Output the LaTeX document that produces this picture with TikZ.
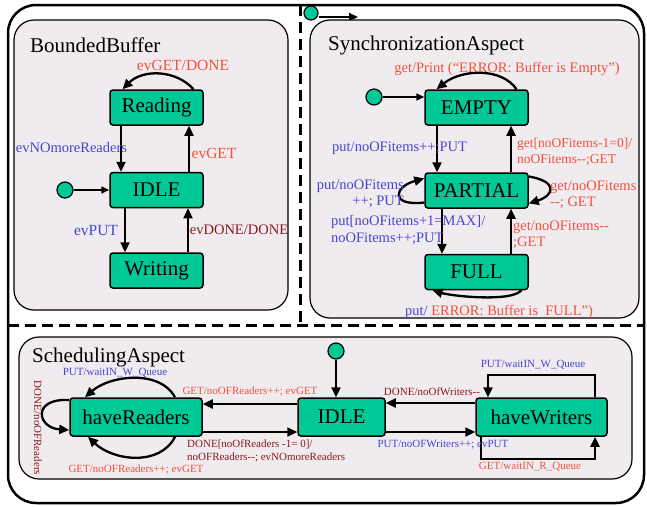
\documentclass[tikz,border=0pt]{standalone}
\usepackage{fontspec}
\setmainfont{Liberation Serif}
\usetikzlibrary{arrows.meta}
\definecolor{stategreen}{RGB}{0,200,150}
\definecolor{boxgray}{RGB}{239,235,239}
\definecolor{lblred}{RGB}{245,80,60}
\definecolor{lblblue}{RGB}{70,70,210}
\definecolor{lbldark}{RGB}{140,25,25}
\tikzset{
  region/.style={draw, line width=1.2pt, fill=boxgray, rounded corners=20pt},
  state/.style={draw, line width=1.5pt, fill=stategreen, rounded corners=3pt, inner sep=0pt, font=\fontsize{21}{21}\selectfont},
  initstate/.style={circle, draw, line width=1.2pt, fill=stategreen, minimum size=16pt, inner sep=0pt},
  trans/.style={line width=2.3pt, -{Triangle[length=10pt,width=9pt]}},
  title/.style={anchor=west, inner sep=0pt, font=\fontsize{21}{21}\selectfont},
  lbl/.style={inner sep=0pt, font=\fontsize{15.5}{16}\selectfont},
  mlbl/.style={inner sep=0pt, font=\fontsize{14.5}{16.5}\selectfont},
  slbl/.style={inner sep=0pt, font=\fontsize{11}{13}\selectfont},
}
\begin{document}
\begin{tikzpicture}[x=1pt, y=-1pt]
    \useasboundingbox (0,0) rectangle (647,506);

    % frame
    \draw[line width=2.5pt, rounded corners=28pt] (8,5) rectangle (644,503);
    \draw[line width=3pt, dash pattern=on 11pt off 6pt] (300,5) -- (300,325);
    \draw[line width=3pt, dash pattern=on 11pt off 6pt] (8,325) -- (644,325);
    \node[initstate, minimum size=14pt] (topInit) at (311,13) {};
    \coordinate (topEnd) at (358,17);
    \draw[line width=1.8pt, -{Triangle[length=9pt,width=8pt]}] (topInit.east |- topEnd) -- (topEnd);

    % BoundedBuffer
    \begin{scope}
        \draw[region] (14,20) rectangle (288,310);
        \node[title] (bbTitle) at (30,45) {BoundedBuffer};
        \node[state, minimum width=93pt, minimum height=35pt] (bbRead) at (156.5,107.5) {Reading};
        \node[state, minimum width=93pt, minimum height=35pt] (bbIdle) at (156.5,190) {IDLE};
        \node[state, minimum width=93pt, minimum height=35pt] (bbWrite) at (156.5,270.5) {Writing};
        \node[initstate] (bbInit) at (65,190) {};

        \draw[line width=1.5pt, -{Triangle[length=8pt,width=7pt]}] (bbInit) -- (bbIdle);
        \draw[trans] ([xshift=-35.5pt]bbRead.south) -- ([xshift=-35.5pt]bbIdle.north);
        \draw[trans] ([xshift=32.5pt]bbIdle.north) -- ([xshift=32.5pt]bbRead.south);
        \draw[trans] ([xshift=-31.5pt]bbIdle.south) -- ([xshift=-31.5pt]bbWrite.north);
        \draw[trans] ([xshift=31.5pt]bbWrite.north) -- ([xshift=31.5pt]bbIdle.south);
        \draw[trans] ([xshift=37pt]bbRead.north) .. controls +(-18,-20) and +(20,-20) .. ([xshift=-34pt]bbRead.north);

        \node[lbl, lblred] (bbLblLoop) at (183,65) {evGET/DONE};
        \node[mlbl, lblblue] (bbLblNo) at (71.5,148) {evNOmoreReaders};
        \node[lbl, lblred] (bbLblGet) at (214,153) {evGET};
        \node[lbl, lblblue] (bbLblPut) at (96,230) {evPUT};
        \node[mlbl, lbldark] (bbLblDone) at (239,230) {evDONE/DONE};
    \end{scope}

    % SynchronizationAspect
    \begin{scope}
        \draw[region] (310,20) rectangle (639,318);
        \node[title] (syTitle) at (328,45) {SynchronizationAspect};
        \node[state, minimum width=103pt, minimum height=35pt] (syEmpty) at (476.5,107.5) {EMPTY};
        \node[state, minimum width=103pt, minimum height=35pt] (syPart) at (476.5,190.5) {PARTIAL};
        \node[state, minimum width=103pt, minimum height=35pt] (syFull) at (476.5,272) {FULL};
        \node[initstate] (syInit) at (374,97) {};

        \draw[line width=1.5pt, -{Triangle[length=8pt,width=7pt]}] (syInit) -- (syInit -| syEmpty.west);
        \draw[trans] ([xshift=-39.5pt]syEmpty.south) -- ([xshift=-39.5pt]syPart.north);
        \draw[trans] ([xshift=34.5pt]syPart.north) -- ([xshift=34.5pt]syEmpty.south);
        \draw[trans] ([xshift=-34.5pt]syPart.south) -- ([xshift=-34.5pt]syFull.north);
        \draw[trans] ([xshift=34.5pt]syFull.north) -- ([xshift=34.5pt]syPart.south);
        \draw[trans] ([xshift=40pt]syEmpty.north) .. controls +(-15,-22) and +(25,-20) .. ([xshift=-40pt]syEmpty.north);
        \draw[trans] ([yshift=-12pt]syPart.west) .. controls +(-35,4) and +(-30,8) .. ([yshift=12pt]syPart.west);
        \draw[trans] ([yshift=14pt]syPart.east) .. controls +(30,5) and +(25,-8) .. ([yshift=-13pt]syPart.east);
        \draw[trans] ([xshift=45pt]syFull.south) .. controls +(-10,12) and +(20,6) .. ([xshift=-44pt]syFull.south);

        \node[mlbl, lblred] (syLblLoop) at (507,69) {get/Print (“ERROR: Buffer is Empty”)};
        \node[mlbl, lblblue, anchor=west] (syLblPut) at (332,148) {put/noOFitems++;PUT};
        \node[mlbl, lblred, anchor=west, align=left, font=\fontsize{13.5}{15.5}\selectfont] (syLblGet) at (517,152) {get[noOFitems-1=0]/\\noOFitems-{}-;GET};
        \node[mlbl, lblblue, anchor=east, align=right] (syLblPutL) at (404,194) {put/noOFitems\\++; PUT};
        \node[mlbl, lblred, anchor=west, align=left] (syLblGetR) at (550,195) {get/noOFitems\\-{}-; GET};
        \node[mlbl, lblblue, anchor=west, align=left] (syLblMax) at (331,230) {put[noOFitems+1=MAX]/\\noOFitems++;PUT};
        \node[mlbl, lblred, anchor=west, align=left] (syLblGetF) at (513,235) {get/noOFitems-{}-\\;GET};
        \node[mlbl] (syLblFull) at (499,312) {\textcolor{lblblue}{put/} \textcolor{lblred}{ERROR: Buffer is\ \ FULL”)}};
    \end{scope}

    % SchedulingAspect
    \begin{scope}
        \draw[region] (19,337) rectangle (632,479);
        \node[title] (scTitle) at (32,357) {SchedulingAspect};
        \node[state, minimum width=132pt, minimum height=38pt] (scRead) at (136,417) {haveReaders};
        \node[state, minimum width=87pt, minimum height=38pt] (scIdle) at (341.5,417) {IDLE};
        \node[state, minimum width=131pt, minimum height=38pt] (scWrite) at (541.5,417) {haveWriters};
        \node[initstate] (scInit) at (336,351) {};

        \draw[trans] (scInit) -- (scInit |- scIdle.north);
        \draw[trans] ([yshift=13pt]scIdle.west) -- ([yshift=13pt]scRead.east);
        \draw[trans] ([yshift=-15pt]scRead.east) -- ([yshift=-15pt]scIdle.west);
        \draw[trans] ([yshift=14pt]scWrite.west) -- ([yshift=14pt]scIdle.east);
        \draw[trans] ([yshift=-15pt]scIdle.east) -- ([yshift=-15pt]scWrite.west);
        \draw[trans] ([xshift=53.5pt]scWrite.north) -- ++(0,-22) -| ([xshift=-53.5pt]scWrite.north);
        \draw[trans] ([xshift=-60.5pt]scWrite.south) -- ++(0,22) -| ([xshift=53.5pt]scWrite.south);
        \draw[trans] ([xshift=39pt]scRead.north) .. controls +(-15,-28) and +(25,-22) .. ([xshift=-51pt]scRead.north);
        \draw[trans] ([xshift=39pt]scRead.south) .. controls +(-15,30) and +(25,24) .. ([xshift=-48pt]scRead.south);
        \draw[trans] ([yshift=17pt]scRead.west) .. controls +(-38,-2) and +(-32,-2) .. ([yshift=-13pt]scRead.west);

        \node[slbl, lblred] (scLblGet) at (250,392) {GET/noOFReaders++; evGET};
        \node[slbl, lbldark, anchor=west, align=left] (scLblDone) at (187,451) {DONE[noOfReaders -1= 0]/\\noOFReaders-{}-; evNOmoreReaders};
        \node[slbl, lbldark] (scLblDoneW) at (432,392) {DONE/noOfWriters-{}-};
        \node[slbl, lblblue] (scLblPut) at (443,445) {PUT/noOFWriters++; evPUT};
        \node[slbl, lblblue] (scLblWTop) at (533,365) {PUT/waitIN\_W\_Queue};
        \node[slbl, lblred] (scLblWBot) at (530,467) {GET/waitIN\_R\_Queue};
        \node[slbl, lblblue] (scLblRTop) at (115,373) {PUT/waitIN\_W\_Queue};
        \node[slbl, lblred] (scLblRBot) at (136,470) {GET/noOFReaders++; evGET};
        \node[slbl, lbldark, rotate=-90] (scLblRLeft) at (38,428) {DONE/noOFReaders};
    \end{scope}
\end{tikzpicture}
\end{document}
